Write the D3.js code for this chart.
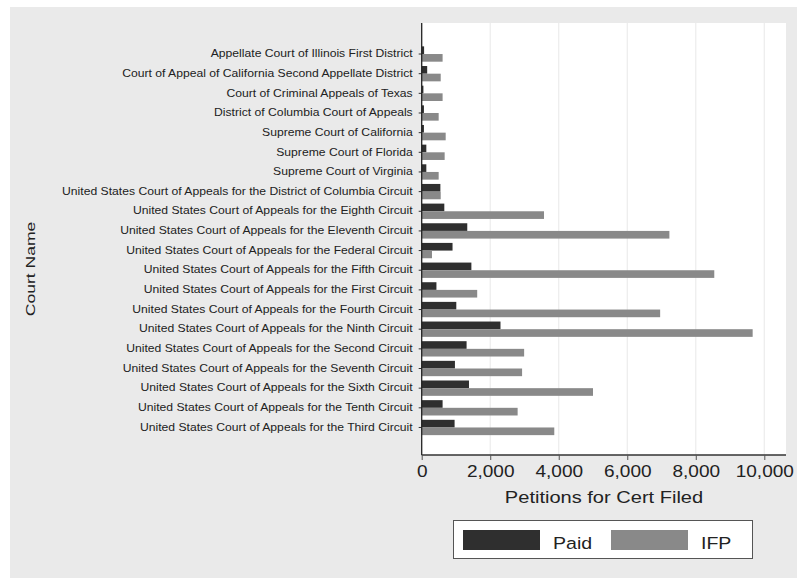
<!DOCTYPE html>
<html><head><meta charset="utf-8">
<script src="https://cdn.jsdelivr.net/npm/d3@7/dist/d3.min.js"></script>
<style>body{margin:0;background:#fff}svg{display:block}</style>
</head><body>
<svg id="c" width="797" height="585"></svg>
<script>
const courts = [
 "Appellate Court of Illinois First District",
 "Court of Appeal of California Second Appellate District",
 "Court of Criminal Appeals of Texas",
 "District of Columbia Court of Appeals",
 "Supreme Court of California",
 "Supreme Court of Florida",
 "Supreme Court of Virginia",
 "United States Court of Appeals for the District of Columbia Circuit",
 "United States Court of Appeals for the Eighth Circuit",
 "United States Court of Appeals for the Eleventh Circuit",
 "United States Court of Appeals for the Federal Circuit",
 "United States Court of Appeals for the Fifth Circuit",
 "United States Court of Appeals for the First Circuit",
 "United States Court of Appeals for the Fourth Circuit",
 "United States Court of Appeals for the Ninth Circuit",
 "United States Court of Appeals for the Second Circuit",
 "United States Court of Appeals for the Seventh Circuit",
 "United States Court of Appeals for the Sixth Circuit",
 "United States Court of Appeals for the Tenth Circuit",
 "United States Court of Appeals for the Third Circuit"
];
const paid = [70,160,50,65,65,135,135,545,660,1330,900,1450,430,1010,2300,1310,970,1380,610,960];
const ifp  = [610,555,610,495,700,670,495,555,3570,7230,300,8540,1620,6960,9660,2990,2930,5000,2800,3870];
const seriesNames = ["Paid","IFP"];
const seriesColors = ["#2f2f2f","#898989"];
const xTicks = [0,2000,4000,6000,8000,10000];

const svg = d3.select("#c");
const font = "'Liberation Sans', Arial, sans-serif";

svg.append("rect").attr("x",10).attr("y",7).attr("width",787).attr("height",571).attr("fill","#eaeaea");

const plot = {l:421.7, r:786, t:23, b:455};
svg.append("rect").attr("x",plot.l).attr("y",plot.t).attr("width",plot.r-plot.l).attr("height",plot.b-plot.t).attr("fill","#ffffff");

const x = d3.scaleLinear().domain([0,10000]).range([plot.l, 764.3]);
const y = d3.scaleBand().domain(courts).range([44.2, 437.3]).paddingInner(0.22).paddingOuter(0.11);
const ySub = d3.scaleBand().domain(seriesNames).range([0, y.bandwidth()]).padding(0);

svg.append("g").selectAll("line").data(xTicks.slice(1)).join("line")
  .attr("x1",d=>x(d)).attr("x2",d=>x(d)).attr("y1",plot.t).attr("y2",plot.b)
  .attr("stroke","#ececec").attr("stroke-width",1.2);

const data = courts.map((c,i)=>({court:c, vals:[paid[i], ifp[i]]}));
const g = svg.append("g");
data.forEach(d=>{
  seriesNames.forEach((s,k)=>{
    g.append("rect")
     .attr("x", x(0))
     .attr("y", y(d.court)+ySub(s))
     .attr("width", x(d.vals[k])-x(0))
     .attr("height", ySub.bandwidth())
     .attr("fill", seriesColors[k]);
  });
});

// y axis
const sy = 1.217;
const yAxis = d3.axisLeft(y).tickSize(3).tickPadding(6);
const ya = svg.append("g").attr("transform",`translate(${plot.l},0)`).call(yAxis);
ya.select(".domain").remove();
ya.selectAll(".tick text").attr("font-family",font).attr("font-size","10px").attr("fill","#222")
  .attr("x", -9/sy).attr("transform",`scale(${sy},1)`);
ya.selectAll(".tick line").attr("stroke","#333");
svg.append("line").attr("x1",plot.l).attr("x2",plot.l).attr("y1",plot.t).attr("y2",plot.b).attr("stroke","#222").attr("stroke-width",1.3);

// x axis
const sx = 1.12;
const xAxis = d3.axisBottom(x).tickValues(xTicks).tickFormat(d3.format(",")).tickSize(5).tickPadding(5);
const xa = svg.append("g").attr("transform",`translate(0,${plot.b})`).call(xAxis);
xa.select(".domain").attr("d",`M${plot.l},0H${plot.r}`).attr("stroke","#333").attr("stroke-width",1.3);
xa.selectAll(".tick line").attr("stroke","#555");
xa.selectAll(".tick text").attr("font-family",font).attr("font-size","17px").attr("fill","#222")
  .attr("transform",`scale(${sx},1)`);

svg.append("g").attr("transform","translate(604,503) scale(1.18,1)")
  .append("text").attr("text-anchor","middle")
  .attr("font-family",font).attr("font-size","17px").attr("fill","#222").text("Petitions for Cert Filed");

svg.append("g").attr("transform","translate(35,269) rotate(-90) scale(1.3,1)")
  .append("text").attr("text-anchor","middle")
  .attr("font-family",font).attr("font-size","13.5px").attr("fill","#222").text("Court Name");

// legend
const lg = svg.append("g");
lg.append("rect").attr("x",453.5).attr("y",520.5).attr("width",299).attr("height",38).attr("fill","#fff").attr("stroke","#555").attr("stroke-width",1);
const legX = [463, 611];
seriesNames.forEach((s,k)=>{
  lg.append("rect").attr("x",legX[k]).attr("y",530).attr("width",77).attr("height",20).attr("fill",seriesColors[k]);
  lg.append("g").attr("transform",`translate(${legX[k]+90},549) scale(1.15,1)`)
    .append("text").attr("font-family",font).attr("font-size","17px").attr("fill","#222").text(s);
});
</script>
</body></html>
